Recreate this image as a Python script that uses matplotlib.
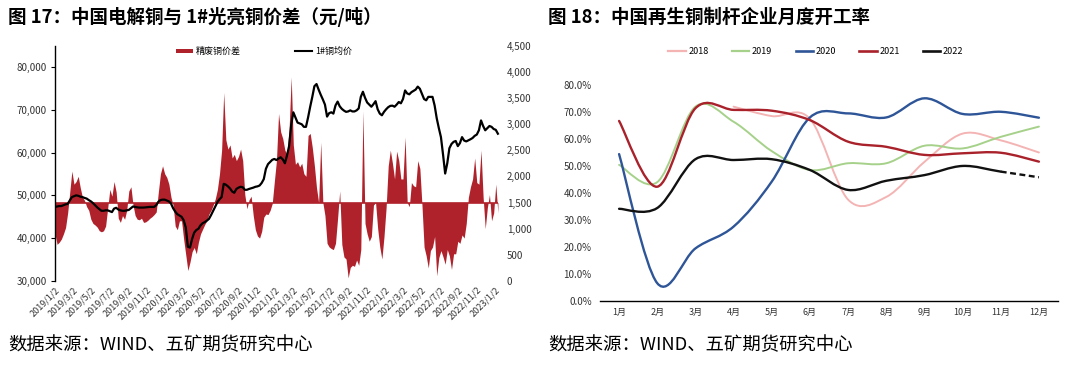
import numpy as np
import pandas as pd
import matplotlib
matplotlib.use("Agg")
import matplotlib.pyplot as plt
from matplotlib.path import Path
from matplotlib.patches import PathPatch
from matplotlib.lines import Line2D
from matplotlib.patches import Patch
from matplotlib.ticker import FuncFormatter, FixedLocator

plt.rcParams['font.family'] = ['Noto Sans CJK SC', 'DejaVu Sans']

# ---------------- 图17 data: weekly readings from 2019-01-02 ----------------
start_date = "2019-01-02"
cu_price = [
    47300, 47400, 47500, 47500, 47700, 47900, 48000, 48800, 49600, 49800,
    50000, 49900, 49700, 49600, 49400, 49250, 48900, 48600, 48200, 47700,
    47200, 46800, 46400, 46400, 46500, 46500, 46300, 46100, 46900, 47100,
    46700, 46500, 46400, 46400, 46500, 46600, 47000, 47400, 47300, 47200,
    47150, 47150, 47150, 47200, 47250, 47300, 47300, 47300, 47700, 48500,
    48900, 49000, 49000, 48800, 48600, 48100, 47000, 46200, 45600, 45300,
    45000, 44200, 42500, 38000, 37800, 39800, 41300, 41900, 42200, 43000,
    43500, 43750, 44100, 44500, 45400, 46400, 47400, 48400, 49100, 49600,
    52700, 52500, 52100, 51600, 50900, 50600, 51500, 51800, 52000, 51900,
    51300, 51300, 51500, 51650, 51800, 52000, 52100, 52300, 52900, 53800,
    56200, 57300, 57800, 58300, 58500, 58250, 58600, 58900, 58400, 57500,
    59300, 61500, 66500, 69400, 68200, 67000, 66800, 66600, 66000, 66000,
    68200, 70700, 73000, 75500, 76000, 74700, 73500, 72400, 71200, 68400,
    69200, 69400, 69100, 71000, 71900, 70800, 70200, 69800, 69500, 69600,
    69850, 69600, 69600, 69850, 70300, 73000, 74200, 72800, 71700, 71200,
    70700, 71300, 72000, 70100, 69100, 68700, 69500, 70100, 70600, 70900,
    70950, 70700, 71200, 71800, 71500, 72500, 74500, 73800, 73600, 74100,
    74400, 74700, 75400, 74900, 73700, 72500, 72200, 73000, 73000, 73000,
    71000, 68000, 65700, 63600, 59500, 55100, 57500, 61000, 62000, 62500,
    62700, 61500, 62200, 63600, 62800, 62600, 62850, 63100, 63400, 63900,
    64200, 65200, 67500, 66200, 65200, 65700, 66200, 66000, 65500, 65300,
    64400,
]
spread = [
    900, 700, 740, 800, 900, 1020, 1300, 1700, 2100, 1850,
    1900, 2000, 1780, 1600, 1540, 1420, 1350, 1180, 1100, 1070,
    1030, 960, 940, 960, 1050, 1400, 1750, 1620, 1900, 1700,
    1200, 1120, 1250, 1180, 1350, 1720, 1800, 1450, 1250, 1180,
    1170, 1200, 1120, 1130, 1160, 1200, 1230, 1270, 1320, 1700,
    2050, 2200, 2050, 1980, 1850, 1600, 1450, 1050, 980, 1150,
    1150, 800, 500, 200, 360, 560, 640, 520, 740, 900,
    990, 1080, 1150, 1280, 1350, 1450, 1570, 1750, 2050, 2500,
    3600, 2700, 2520, 2600, 2350, 2420, 2300, 2380, 2520, 2300,
    1650, 1380, 1550, 1620, 1250, 980, 860, 820, 950, 1220,
    1280, 1270, 1350, 1480, 1900, 2300, 3200, 2850, 2720, 2500,
    2420, 2900, 3900, 2600, 2230, 2280, 2180, 2250, 2050, 2000,
    2780, 2820, 2550, 2200, 1780, 1500, 2650, 1500, 1250, 720,
    650, 620, 600, 720, 1200, 1720, 700, 460, 420, 60,
    260, 300, 280, 400, 300, 600, 3250, 1100, 900, 760,
    850, 1450, 1500, 1000, 650, 420, 850, 1400, 2200, 2500,
    2250, 1950, 2480, 2300, 1950, 1950, 2750, 1500, 1420, 1880,
    1820, 1800, 2300, 2150, 1450, 650, 480, 250, 580, 650,
    850, 100, 450, 580, 460, 320, 600, 480, 220, 520,
    520, 760, 720, 880, 820, 1100, 1600, 1800, 1950, 2350,
    1880, 1850, 2500, 1600, 1000, 1400, 1650, 1150, 1300, 1850,
    1300,
]
spread_base = 1500

# ---------------- 图18 data: monthly operating rate (%) ----------------
months = ["1月", "2月", "3月", "4月", "5月", "6月",
          "7月", "8月", "9月", "10月", "11月", "12月"]
rate_2018 = [None, None, None, 72.0, 68.5, 67.5, 37.5, 38.5, 51.5, 62.0, 59.5, 55.0]
rate_2019 = [50.4, 44.0, 72.0, 66.4, 55.5, 48.5, 51.0, 51.0, 57.5, 56.5, 60.8, 64.6]
rate_2020 = [54.4, 6.5, 19.4, 27.5, 44.2, 68.0, 69.5, 68.0, 75.1, 69.3, 70.1, 67.9]
rate_2021 = [66.7, 42.3, 71.4, 70.8, 70.5, 67.0, 59.0, 57.1, 54.1, 54.7, 54.9, 51.6]
rate_2022 = [34.1, 34.4, 52.5, 52.2, 52.5, 48.5, 41.1, 44.5, 46.6, 50.0, 47.9, 45.8]

RED = "#B0222B"


def smooth_segments(xs, ys):
    """Excel-like smoothed line: one cubic Bezier per pair of points."""
    pts = np.column_stack([xs, ys]).astype(float)
    n = len(pts)
    segs = []
    for i in range(n - 1):
        p0 = pts[max(i - 1, 0)]
        p1 = pts[i]
        p2 = pts[i + 1]
        p3 = pts[min(i + 2, n - 1)]
        c1 = p1 + (p2 - p0) / 6
        c2 = p2 - (p3 - p1) / 6
        segs.append((p1, c1, c2, p2))
    return segs


def segs_to_path(segs):
    verts = [segs[0][0]]
    codes = [Path.MOVETO]
    for _, c1, c2, p2 in segs:
        verts += [c1, c2, p2]
        codes += [Path.CURVE4] * 3
    return Path(verts, codes)


fig = plt.figure(figsize=(10.8, 3.68), dpi=100)
fig.patch.set_facecolor("white")

# ================= left chart =================
dates = pd.date_range(start_date, periods=len(cu_price), freq="7D")

ax = fig.add_axes([55 / 1080, 87 / 368, 445 / 1080, 235.5 / 368])
ax2 = ax.twinx()
ax.set_zorder(ax2.get_zorder() + 1)
ax.patch.set_visible(False)

ax2.fill_between(dates, spread, spread_base, color=RED, lw=0)
ax2.hlines(spread_base, dates[0], dates[-1], color=RED, lw=1.2)
ax.plot(dates, cu_price, color="black", lw=1.6)

ax.set_xlim(pd.Timestamp("2019-01-02"), pd.Timestamp("2023-01-18"))
ax.set_ylim(30000, 85000)
ax2.set_ylim(0, 4500)

ax.yaxis.set_major_locator(FixedLocator(np.arange(30000, 80001, 10000)))
ax.yaxis.set_major_formatter(FuncFormatter(lambda v, p: f"{int(v):,}"))
ax2.yaxis.set_major_locator(FixedLocator(np.arange(0, 4501, 500)))
ax2.yaxis.set_major_formatter(FuncFormatter(lambda v, p: f"{int(v):,}"))

tick_dates = [pd.Timestamp(2019 + (m // 12), m % 12 + 1, 2) for m in range(0, 49, 2)]
ax.set_xticks(tick_dates)
ax.set_xticklabels([f"{d.year}/{d.month}/{d.day}" for d in tick_dates],
                   rotation=45, ha="right", va="top", rotation_mode="anchor")
ax.tick_params(axis="x", length=0, pad=3, labelsize=6.5, colors="#333333")
ax.tick_params(axis="y", direction="out", length=3, width=0.8, pad=3,
               labelsize=7, colors="#333333")
ax.tick_params(axis="y", color="black")
ax2.tick_params(axis="y", length=0, pad=5, labelsize=7, colors="#333333")

for s in ["top", "right", "bottom"]:
    ax.spines[s].set_visible(False)
ax.spines["left"].set_linewidth(1.0)
for s in ax2.spines.values():
    s.set_visible(False)

handles = [Patch(facecolor=RED, edgecolor="none", label="精废铜价差"),
           Line2D([], [], color="black", lw=1.5, label="1#铜均价")]
ax.legend(handles=handles, loc="center", bbox_to_anchor=(0.47, 0.974),
          ncol=2, frameon=False, fontsize=6.5, handlelength=1.9,
          handleheight=0.45, columnspacing=6.0, handletextpad=0.3)

fig.text(8 / 1080, 1 - 17 / 368, "图 17：中国电解铜与 1#光亮铜价差（元/吨）",
         fontsize=13.3, fontweight="bold", va="center", ha="left")
fig.text(8 / 1080, 1 - 345 / 368, "数据来源：WIND、五矿期货研究中心",
         fontsize=13.2, va="center", ha="left")

# ================= right chart =================
bx = fig.add_axes([600 / 1080, 67.3 / 368, 458 / 1080, 215.6 / 368])
xpos = np.arange(1, 13)

series = [
    ("2018", rate_2018, "#F4B4B4", 1.4),
    ("2019", rate_2019, "#A6D18A", 1.4),
    ("2020", rate_2020, "#2E5597", 1.7),
    ("2021", rate_2021, "#A9212A", 1.7),
    ("2022", rate_2022, "#111111", 1.7),
]

for name, vals, col, lw in series:
    xs = [x for x, v in zip(xpos, vals) if v is not None]
    ys = [v for v in vals if v is not None]
    segs = smooth_segments(xs, ys)
    if name == "2022":
        bx.add_patch(PathPatch(segs_to_path(segs[:-1]), fill=False,
                               edgecolor=col, lw=lw, capstyle="round"))
        bx.add_patch(PathPatch(segs_to_path(segs[-1:]), fill=False,
                               edgecolor=col, lw=lw, linestyle=(0, (2.5, 1.5))))
    else:
        bx.add_patch(PathPatch(segs_to_path(segs), fill=False,
                               edgecolor=col, lw=lw, capstyle="round"))

bx.set_xlim(0.5, 12.5)
bx.set_ylim(0, 80)
bx.set_xticks(xpos)
bx.set_xticklabels(months)
bx.set_yticks(np.arange(0, 81, 10))
bx.yaxis.set_major_formatter(FuncFormatter(lambda v, p: f"{v:.1f}%"))
bx.tick_params(axis="x", length=0, pad=5, labelsize=6.5, colors="#333333")
bx.tick_params(axis="y", length=0, pad=6, labelsize=7, colors="#333333")
for s in ["top", "right", "left"]:
    bx.spines[s].set_visible(False)
bx.spines["bottom"].set_linewidth(1.0)

leg_handles = [Line2D([], [], color=col, lw=lw + 0.2, label=name)
               for name, _, col, lw in series]
bx.legend(handles=leg_handles, loc="center", bbox_to_anchor=(0.4716, 1.155),
          ncol=5, frameon=False, fontsize=6.5, handlelength=1.9,
          columnspacing=2.6, handletextpad=0.3)

fig.text(548 / 1080, 1 - 17 / 368, "图 18：中国再生铜制杆企业月度开工率",
         fontsize=13.3, fontweight="bold", va="center", ha="left")
fig.text(548 / 1080, 1 - 345 / 368, "数据来源：WIND、五矿期货研究中心",
         fontsize=13.2, va="center", ha="left")

fig.savefig("out.png", dpi=100, facecolor="white")
